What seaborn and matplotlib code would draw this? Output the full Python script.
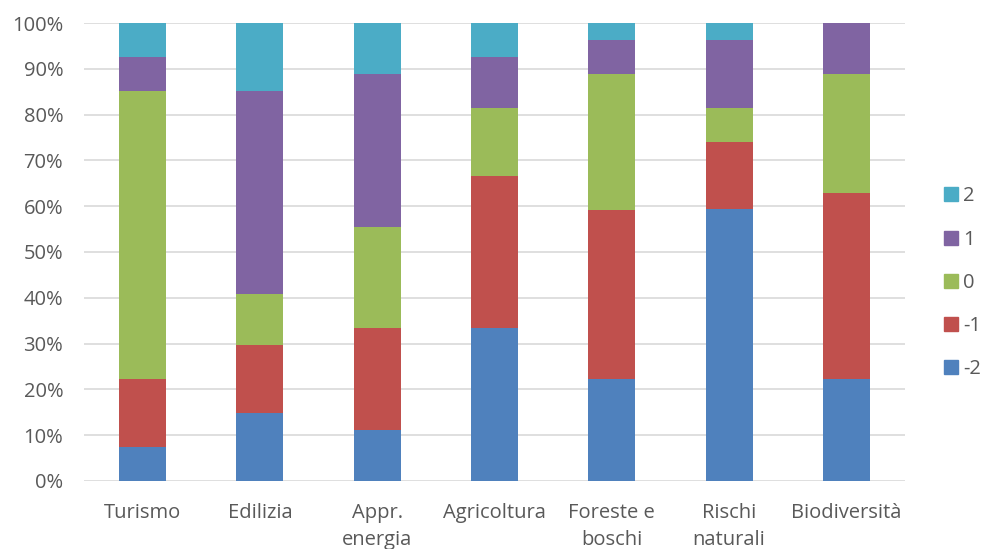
import pandas as pd
import numpy as np
import seaborn as sns
import matplotlib.pyplot as plt
from matplotlib.lines import Line2D

categories = ['Turismo', 'Edilizia', 'Appr.\nenergia', 'Agricoltura',
              'Foreste e\nboschi', 'Rischi\nnaturali', 'Biodiversità']
series = ['-2', '-1', '0', '1', '2']

# percent share of each answer per sector
v_m2 = [7.4, 14.8, 11.1, 33.3, 22.2, 59.3, 22.2]
v_m1 = [14.8, 14.8, 22.2, 33.3, 37.0, 14.8, 40.7]
v_0 = [63.0, 11.1, 22.2, 14.8, 29.6, 7.4, 25.9]
v_1 = [7.4, 44.4, 33.3, 11.1, 7.4, 14.8, 11.1]
v_2 = [7.4, 14.8, 11.1, 7.4, 3.7, 3.7, 0.0]

colors = {'-2': '#4F81BD', '-1': '#C0504D', '0': '#9BBB59',
          '1': '#8064A2', '2': '#4BACC6'}

df = pd.DataFrame({'cat': categories, '-2': v_m2, '-1': v_m1, '0': v_0,
                   '1': v_1, '2': v_2})
# cumulative tops, to draw stacked bars from the tallest down
cum = df[series].cumsum(axis=1)
total = cum['2']
for s in series:
    cum[s] = cum[s] / total * 100
cum['cat'] = df['cat']

sns.set_style('white')
plt.rcParams['font.family'] = ['Open Sans', 'DejaVu Sans']

fig = plt.figure(figsize=(9.88, 5.49), dpi=100)
ax = fig.add_axes([0.085, 0.124, 0.831, 0.834])

for s in reversed(series):
    sns.barplot(data=cum, x='cat', y=s, color=colors[s], width=0.4,
                saturation=1, ax=ax, linewidth=0, zorder=3)

ax.set_ylim(0, 100)
ax.set_xlim(-0.5, 6.5)
ax.set_yticks(np.arange(0, 101, 10))
ax.set_yticklabels([f'{t}%' for t in range(0, 101, 10)])
ax.yaxis.grid(True, color='#D9D9D9', linewidth=1.2, zorder=0)
ax.set_axisbelow(True)
for sp in ax.spines.values():
    sp.set_visible(False)
ax.set_xlabel('')
ax.set_ylabel('')
ax.tick_params(axis='both', length=0, labelsize=14.5, colors='#595959')
ax.tick_params(axis='x', pad=16)
ax.tick_params(axis='y', pad=15)
for lab in ax.get_xticklabels():
    lab.set_linespacing(1.45)

handles = [Line2D([0], [0], marker='s', linestyle='', markersize=9.5,
                  color=colors[s]) for s in reversed(series)]
fig.legend(handles, list(reversed(series)), loc='center left',
           bbox_to_anchor=(0.935, 0.485), frameon=False, fontsize=14.5,
           labelcolor='#595959', handletextpad=0.15, labelspacing=1.15,
           handlelength=0.9)

plt.savefig('out.png', dpi=100)
